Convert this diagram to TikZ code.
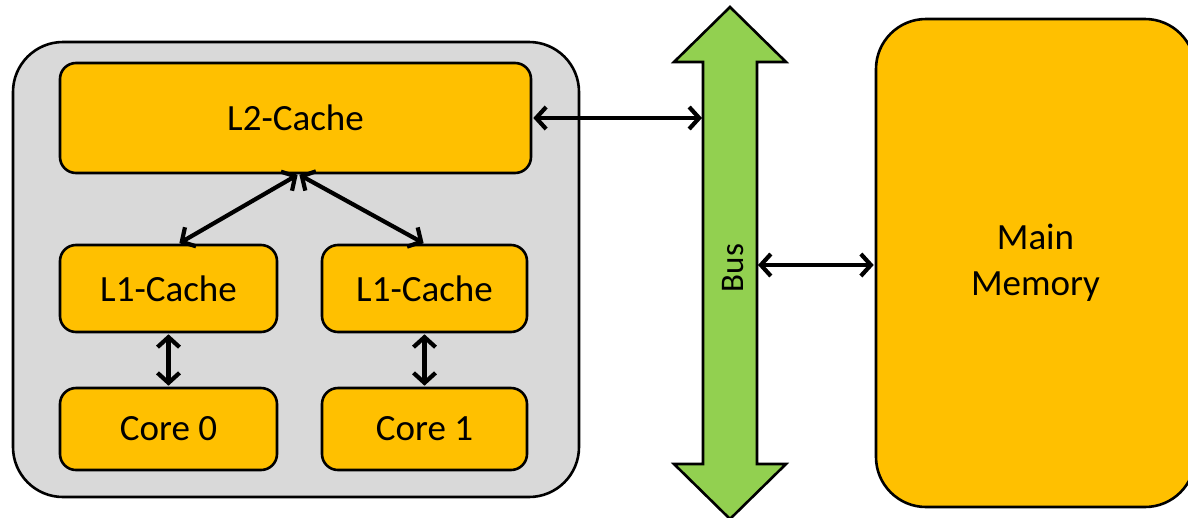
\documentclass[tikz,border=0pt]{standalone}
\usepackage{fontspec}
\setmainfont{Carlito}
\usetikzlibrary{arrows.meta}
\definecolor{boxorange}{HTML}{FFC000}
\definecolor{chipgray}{HTML}{D9D9D9}
\definecolor{busgreen}{HTML}{92D050}
\tikzset{
  unit/.style={draw=black, line width=2.6pt, fill=boxorange, rounded corners=16pt,
    font=\fontsize{37}{46}\selectfont, inner sep=0pt, align=center},
  link/.style={line width=4.2pt, {Straight Barb[length=10pt,width=22pt]}-{Straight Barb[length=10pt,width=22pt]}, shorten <=1pt, shorten >=1pt},
}
\begin{document}
\begin{tikzpicture}[x=1pt,y=-1pt]
  \useasboundingbox (0,0) rectangle (1188,517);
  % processor package
  \draw[line width=2.6pt, fill=chipgray, rounded corners=50pt] (13,42) rectangle (579,497);
  % caches and cores
  \node[unit, minimum width=471pt, minimum height=110pt] (l2) at (295.5,118) {L2-Cache};
  \node[unit, minimum width=217pt, minimum height=87pt] (l1a) at (168.5,288.5) {L1-Cache};
  \node[unit, minimum width=205pt, minimum height=87pt] (l1b) at (424.5,288.5) {L1-Cache};
  \node[unit, minimum width=217pt, minimum height=82pt] (c0) at (168.5,429) {Core 0};
  \node[unit, minimum width=205pt, minimum height=82pt] (c1) at (424.5,429) {Core 1};
  % main memory
  \node[unit, rounded corners=50pt, minimum width=319pt, minimum height=488pt] (mem) at (1035.5,263) {Main\\Memory};
  % bus: double-headed block arrow
  \draw[line width=2.6pt, fill=busgreen, line join=miter]
    (730,7) -- (786,62) -- (757,62) -- (757,464) -- (786,464) -- (730,519)
    -- (674,464) -- (703,464) -- (703,62) -- (674,62) -- cycle;
  \node[rotate=90, font=\fontsize{33}{38}\selectfont] (bus) at (733,268) {Bus};
  \coordinate (busw) at (703,265);
  \coordinate (buse) at (757,265);
  % connections
  \draw[link] (l2.east) -- (l2.east -| busw);
  \draw[link] (buse) -- (mem.west |- buse);
  \draw[link] ([xshift=3pt]l2.south) -- ([xshift=10pt]l1a.north);
  \draw[link] ([xshift=3pt]l2.south) -- (l1b.north);
  \draw[link] (l1a.south) -- (c0.north);
  \draw[link] (l1b.south) -- (c1.north);
\end{tikzpicture}
\end{document}
